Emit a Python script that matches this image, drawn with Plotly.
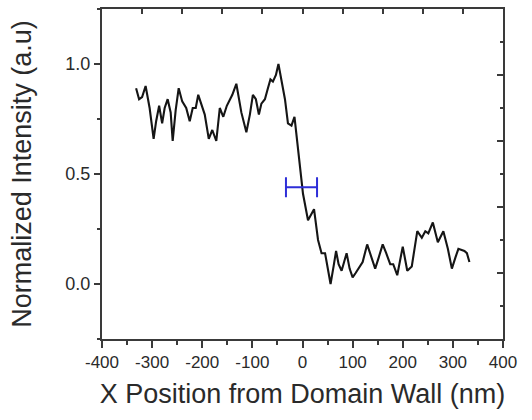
import plotly.graph_objects as go

# Line profile across the domain wall
x_nm = [-332, -326, -320, -313, -305, -297, -292, -286, -280, -275, -269, -263, -259, -253,
        -247, -240, -232, -225, -219, -213, -208, -202, -195, -187, -180, -172, -165, -158,
        -151, -140, -132, -122, -112, -105, -99, -93, -87, -82, -75, -69, -64, -59, -53, -48,
        -42, -35, -29, -22, -16, -11, -5, 1, 11, 18, 23, 31, 38, 45, 49, 56, 62, 67, 72, 78,
        83, 88, 94, 100, 106, 111, 120, 129, 137, 145, 152, 160, 167, 175, 181, 189, 200, 209,
        218, 229, 238, 245, 251, 260, 270, 281, 290, 298, 305, 311, 323, 328, 333]
intensity = [0.89, 0.84, 0.85, 0.90, 0.80, 0.66, 0.74, 0.81, 0.73, 0.80, 0.84, 0.78, 0.65, 0.79,
             0.89, 0.83, 0.80, 0.74, 0.80, 0.80, 0.86, 0.82, 0.77, 0.66, 0.70, 0.65, 0.80, 0.76,
             0.81, 0.86, 0.91, 0.78, 0.69, 0.77, 0.86, 0.84, 0.77, 0.82, 0.84, 0.89, 0.93, 0.92,
             0.95, 1.00, 0.93, 0.84, 0.73, 0.72, 0.76, 0.65, 0.52, 0.41, 0.29, 0.32, 0.34, 0.20,
             0.14, 0.14, 0.09, 0.00, 0.08, 0.15, 0.09, 0.06, 0.10, 0.14, 0.07, 0.03, 0.05, 0.07,
             0.10, 0.18, 0.12, 0.07, 0.12, 0.18, 0.14, 0.09, 0.09, 0.04, 0.17, 0.06, 0.08, 0.24,
             0.21, 0.24, 0.23, 0.28, 0.19, 0.24, 0.16, 0.07, 0.12, 0.16, 0.15, 0.14, 0.10]

# Wall width marker (horizontal bar)
fwhm_center_x = [-2]
fwhm_y = [0.44]
fwhm_halfwidth = [31]

x_ticks = [-400, -300, -200, -100, 0, 100, 200, 300, 400]
x_tick_labels = ["-400", "-300", "-200", "-100", "0", "100", "200", "300", "400"]
y_ticks = [0.0, 0.5, 1.0]
y_tick_labels = ["0.0", "0.5", "1.0"]

FONT = "Liberation Sans, Arial, sans-serif"
AX = "#3a3a3a"

fig = go.Figure()
fig.add_trace(go.Scatter(x=x_nm, y=intensity, mode="lines",
                         line=dict(color="#151515", width=2.1), showlegend=False))
fig.add_trace(go.Scatter(x=fwhm_center_x, y=fwhm_y, mode="markers",
                         marker=dict(size=1, color="rgba(0,0,0,0)"),
                         error_x=dict(type="data", array=fwhm_halfwidth, color="#2e2ed8",
                                      thickness=2, width=10),
                         showlegend=False))
# dummy trace for the mirrored frame axes
fig.add_trace(go.Scatter(x=[None], y=[None], xaxis="x2", yaxis="y2",
                         showlegend=False, hoverinfo="skip"))

fig.update_layout(
    width=532, height=420,
    margin=dict(l=102, r=29, t=9, b=81),
    paper_bgcolor="white", plot_bgcolor="white",
    font=dict(family=FONT, color="#2a2a2a"),
    xaxis=dict(range=[-400, 400], tickvals=x_ticks, ticktext=x_tick_labels, ticks="outside",
               ticklen=7, tickwidth=2,
               tickcolor=AX, showline=True, linewidth=2, linecolor=AX, showgrid=False,
               zeroline=False, tickfont=dict(size=17),
               minor=dict(dtick=50, ticks="outside", ticklen=4, tickwidth=2, tickcolor=AX),
               title=dict(text="X Position from Domain Wall (nm)", font=dict(size=27), standoff=13)),
    yaxis=dict(range=[-0.25, 1.25], tickvals=y_ticks, ticktext=y_tick_labels, ticks="outside",
               ticklen=6, tickwidth=2, tickcolor=AX, showline=True, linewidth=2, linecolor=AX,
               showgrid=False, zeroline=False, tickfont=dict(size=18),
               minor=dict(dtick=0.25, ticks="outside", ticklen=3, tickwidth=2, tickcolor=AX),
               title=dict(text="Normalized Intensity (a.u)", font=dict(size=27), standoff=26)),
    xaxis2=dict(overlaying="x", side="top", range=[0, 10], dtick=1, ticks="inside", ticklen=5,
                tickwidth=2, tickcolor=AX, showticklabels=False, showline=True, linewidth=2,
                linecolor=AX, showgrid=False, zeroline=False),
    yaxis2=dict(overlaying="y", side="right", range=[0, 1], dtick=0.2, ticks="inside", ticklen=6,
                tickwidth=2, tickcolor=AX, showticklabels=False, showline=True, linewidth=2,
                linecolor=AX, showgrid=False, zeroline=False,
                minor=dict(dtick=0.1, ticks="inside", ticklen=3, tickwidth=2, tickcolor=AX)),
)

fig.write_html("out.html")
